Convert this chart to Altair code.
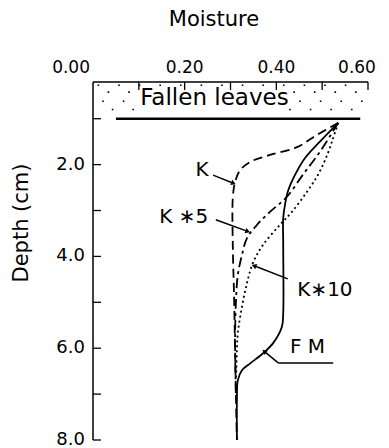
import altair as alt
import pandas as pd
import math

FONT = "DejaVu Sans"

# ---- series (moisture vs depth) ----
k_moist = [0.535, 0.489, 0.445, 0.386, 0.343, 0.321, 0.310, 0.305, 0.305, 0.308, 0.310, 0.312, 0.314]
k_depth = [1.09, 1.35, 1.62, 1.79, 1.94, 2.12, 2.38, 2.73, 3.75, 4.95, 6.04, 7.13, 8.0]

k5_moist = [0.535, 0.495, 0.458, 0.423, 0.386, 0.358, 0.336, 0.325, 0.316, 0.312, 0.310, 0.312]
k5_depth = [1.09, 1.72, 2.22, 2.70, 3.03, 3.31, 3.60, 3.97, 4.40, 4.95, 5.82, 7.13]

k10_moist = [0.535, 0.524, 0.511, 0.491, 0.467, 0.434, 0.408, 0.371, 0.349, 0.336, 0.325, 0.316, 0.314, 0.312]
k10_depth = [1.09, 1.42, 1.79, 2.22, 2.59, 3.03, 3.31, 3.75, 4.14, 4.58, 5.10, 5.67, 6.04, 6.70]

fm_moist = [0.535, 0.495, 0.463, 0.441, 0.425, 0.419, 0.415, 0.415, 0.415, 0.412, 0.393, 0.371, 0.343, 0.325, 0.316, 0.314, 0.314]
fm_depth = [1.09, 1.50, 1.85, 2.22, 2.59, 2.87, 3.16, 3.75, 5.23, 5.54, 5.89, 6.11, 6.33, 6.48, 6.70, 7.13, 8.0]

# ---- axes ----
x_ticks = [0.1, 0.2, 0.3, 0.4, 0.5, 0.6]
x_labels = ["0.00", "0.20", "0.40", "0.60"]
x_label_vals = [0.0, 0.2, 0.4, 0.6]
y_ticks = [1, 2, 3, 4, 5, 6, 7, 8]
y_labels = ["2.0", "4.0", "6.0", "8.0"]
y_label_vals = [2, 4, 6, 8]

# ---- annotations ----
ann_text = ["K", "K \u22175", "K\u221710", "F  M", "Fallen leaves"]
ann_x = [0.238, 0.198, 0.506, 0.468, 0.265]
ann_y = [2.12, 3.14, 4.73, 5.97, 0.55]
ann_size = [20, 20, 20, 20, 23]

lead_x1 = [0.262, 0.268, 0.425, 0.404]
lead_y1 = [2.23, 3.20, 4.49, 6.32]
lead_x2 = [0.305, 0.336, 0.353, 0.375]
lead_y2 = [2.40, 3.45, 4.21, 6.08]

fm_under_x = [0.404, 0.524]
fm_under_y = [6.32, 6.32]

leaf_line_x = [0.05, 0.583]
leaf_line_y = 1.0

# stipple rows of the litter layer: depth, from, to
stip_d = [0.27, 0.42, 0.42, 0.62, 0.62, 0.80, 0.80]
stip_x1 = [0.010, 0.032, 0.437, 0.020, 0.450, 0.041, 0.428]
stip_x2 = [0.590, 0.090, 0.590, 0.090, 0.590, 0.090, 0.590]

W, H = 275, 358
xs = alt.Scale(domain=[0, 0.6], nice=False, zero=False)
ys = alt.Scale(domain=[0.2, 8.0], reverse=True, nice=False, zero=False)


def series(mx, dp, dash):
    df = pd.DataFrame({"m": mx, "d": dp, "o": list(range(len(mx)))})
    kw = dict(color="black", strokeWidth=1.8, interpolate="catmull-rom")
    if dash:
        kw["strokeDash"] = dash
    return alt.Chart(df).mark_line(**kw).encode(
        x=alt.X("m:Q", scale=xs, axis=None),
        y=alt.Y("d:Q", scale=ys, axis=None),
        order="o:O",
    )


lines = [
    series(k_moist, k_depth, [9, 5]),
    series(k5_moist, k5_depth, [10, 4, 3, 4]),
    series(k10_moist, k10_depth, [2, 3]),
    series(fm_moist, fm_depth, None),
]

# frame lines
top_dom = alt.Chart(pd.DataFrame({"a": [0.0], "b": [0.6]})).mark_rule(color="black", strokeWidth=1.5).encode(
    x=alt.X("a:Q", scale=xs, axis=None), x2="b:Q", y=alt.value(0))
left_dom = alt.Chart(pd.DataFrame({"a": [0.2], "b": [8.0]})).mark_rule(color="black", strokeWidth=1.5).encode(
    y=alt.Y("a:Q", scale=ys, axis=None), y2="b:Q", x=alt.value(0))

xt = alt.Chart(pd.DataFrame({"v": x_ticks})).mark_rule(color="black", strokeWidth=1.3).encode(
    x=alt.X("v:Q", scale=xs, axis=None), y=alt.value(0), y2=alt.value(8))
yt = alt.Chart(pd.DataFrame({"v": y_ticks})).mark_rule(color="black", strokeWidth=1.3).encode(
    y=alt.Y("v:Q", scale=ys, axis=None), x=alt.value(0), x2=alt.value(8))

xl_df = pd.DataFrame({"v": x_label_vals, "t": x_labels})
xl0 = alt.Chart(xl_df[xl_df.v == 0.0]).mark_text(font=FONT, fontSize=17, align="right", baseline="middle", dx=-3).encode(
    x=alt.X("v:Q", scale=xs, axis=None), y=alt.value(-14), text="t:N")
xlm = alt.Chart(xl_df[(xl_df.v > 0) & (xl_df.v < 0.6)]).mark_text(font=FONT, fontSize=17, align="center", baseline="middle").encode(
    x=alt.X("v:Q", scale=xs, axis=None), y=alt.value(-14), text="t:N")
xl6 = alt.Chart(xl_df[xl_df.v == 0.6]).mark_text(font=FONT, fontSize=17, align="center", baseline="middle", dx=-11).encode(
    x=alt.X("v:Q", scale=xs, axis=None), y=alt.value(-14), text="t:N")

yl = alt.Chart(pd.DataFrame({"v": y_label_vals, "t": y_labels})).mark_text(
    font=FONT, fontSize=18, align="right", baseline="middle", dx=-8).encode(
    y=alt.Y("v:Q", scale=ys, axis=None), x=alt.value(0), text="t:N")

title = alt.Chart(pd.DataFrame({"t": ["Moisture"]})).mark_text(
    font=FONT, fontSize=21, align="center", baseline="middle").encode(
    x=alt.value(121), y=alt.value(-62), text="t:N")
ytitle = alt.Chart(pd.DataFrame({"t": ["Depth (cm)"]})).mark_text(
    font=FONT, fontSize=21, align="center", baseline="middle", angle=270).encode(
    x=alt.value(-71), y=alt.value(141), text="t:N")

# litter layer
leaf_line = alt.Chart(pd.DataFrame({"a": [leaf_line_x[0]], "b": [leaf_line_x[1]], "d": [leaf_line_y]})).mark_rule(
    color="black", strokeWidth=2.4).encode(
    x=alt.X("a:Q", scale=xs, axis=None), x2="b:Q", y=alt.Y("d:Q", scale=ys, axis=None))

stip_df = pd.DataFrame({"a": stip_x1, "b": stip_x2, "d": stip_d})
stipple = alt.Chart(stip_df).mark_rule(
    color="black", strokeWidth=1.6, strokeDash=[1.6, 19]).encode(
    x=alt.X("a:Q", scale=xs, axis=None), x2="b:Q", y=alt.Y("d:Q", scale=ys, axis=None))

ann_df = pd.DataFrame({"x": ann_x, "y": ann_y, "t": ann_text, "s": ann_size})
ann = alt.Chart(ann_df).mark_text(font=FONT, align="center", baseline="middle").encode(
    x=alt.X("x:Q", scale=xs, axis=None), y=alt.Y("y:Q", scale=ys, axis=None), text="t:N",
    size=alt.Size("s:Q", scale=None, legend=None))

lead_df = pd.DataFrame({"x1": lead_x1, "y1": lead_y1, "x2": lead_x2, "y2": lead_y2})
leaders = alt.Chart(lead_df).mark_rule(color="black", strokeWidth=1.5).encode(
    x=alt.X("x1:Q", scale=xs, axis=None), y=alt.Y("y1:Q", scale=ys, axis=None), x2="x2:Q", y2="y2:Q")

# arrow heads: angle from leader direction (screen space)
px_per_x = W / 0.6
px_per_y = H / 7.8
angles = []
for a, b, c, d in zip(lead_x1, lead_y1, lead_x2, lead_y2):
    dx = (c - a) * px_per_x
    dy = (d - b) * px_per_y
    angles.append(math.degrees(math.atan2(dx, -dy)) % 360)
head_df = pd.DataFrame({"x": lead_x2, "y": lead_y2, "ang": angles})
heads = alt.Chart(head_df).mark_point(shape="triangle", filled=True, color="black", size=30, opacity=1).encode(
    x=alt.X("x:Q", scale=xs, axis=None), y=alt.Y("y:Q", scale=ys, axis=None),
    angle=alt.Angle("ang:Q", scale=None))

under = alt.Chart(pd.DataFrame({"a": [fm_under_x[0]], "b": [fm_under_x[1]], "d": [fm_under_y[0]]})).mark_rule(
    color="black", strokeWidth=1.5).encode(
    x=alt.X("a:Q", scale=xs, axis=None), x2="b:Q", y=alt.Y("d:Q", scale=ys, axis=None))

chart = alt.layer(
    stipple, leaf_line, top_dom, left_dom, xt, yt, xl0, xlm, xl6, yl, title, ytitle,
    *lines, leaders, heads, under, ann,
).properties(
    width=W, height=H,
    padding={"left": 93, "top": 82, "right": 21, "bottom": 8},
    autosize=alt.AutoSizeParams(type="none"),
    background="white",
).configure_view(stroke=None)

chart.save("out.html", embed_options={"renderer": "svg", "actions": False})
